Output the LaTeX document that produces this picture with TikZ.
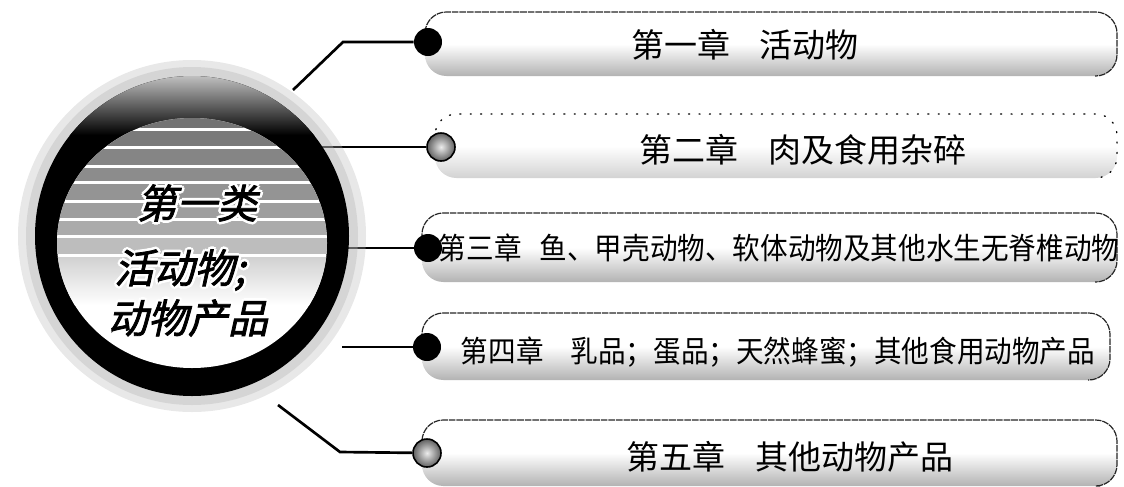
\documentclass[tikz,border=0pt]{standalone}
\usepackage{fontspec}
\newfontfamily\cjk{Noto Sans CJK SC}
\newfontfamily\cjkc[FakeStretch=0.92]{Noto Sans CJK SC}
\newfontfamily\cjkit[FakeSlant=0.22,FakeBold=2]{Noto Sans CJK SC}
\usetikzlibrary{shapes.geometric}
\newcommand\wcp[3]{\rlap{\kern#1\raisebox{#2}{\color{white}#3}}}
\newcommand\outl[1]{\wcp{2pt}{0pt}{#1}\wcp{-2pt}{0pt}{#1}\wcp{0pt}{2pt}{#1}\wcp{0pt}{-2pt}{#1}\wcp{1.4pt}{1.4pt}{#1}\wcp{-1.4pt}{1.4pt}{#1}\wcp{1.4pt}{-1.4pt}{#1}\wcp{-1.4pt}{-1.4pt}{#1}#1}
\tikzset{
  pill/.style={top color=white, bottom color=gray!60, middle color=white, rounded corners=16pt},
  pilllight/.style={top color=white, bottom color=gray!35, middle color=white, rounded corners=16pt},
  pillline/.style={draw=black!85, line width=0.9pt, dash pattern=on 5pt off 0.7pt, rounded corners=16pt},
  pilldot/.style={draw=black, line width=1pt, dash pattern=on 0.8pt off 7pt, line cap=round, rounded corners=16pt},
  conn/.style={line width=2pt, draw=black},
  bulletk/.style={circle, fill=black, minimum size=21pt, inner sep=0pt},
  bulletg/.style={circle, inner color=gray!15, outer color=gray!75!black, draw=black, line width=1.2pt, minimum size=21pt, inner sep=0pt},
  chap/.style={font=\cjk\fontsize{24.75}{26}\selectfont, inner sep=0pt},
  chapc/.style={font=\cjkc\fontsize{22.5}{24}\selectfont, inner sep=0pt},
  ctext/.style={font=\cjkit\fontsize{30}{32}\selectfont, inner sep=0pt}
}
\begin{document}
\begin{tikzpicture}[x=0.75pt,y=-0.75pt]
\useasboundingbox (0,0) rectangle (1124,486);
% pills
\path[pill] (425,12) rectangle (1117,76);
\draw[pillline] (425,40) |- (1117,12) |- (1095,76);
\path[pilllight] (435,114) rectangle (1117,178);
\draw[pilldot] (435,140) |- (1117,114) |- (1095,178);
\path[pill] (422,213) rectangle (1117,282);
\draw[pillline] (422,240) |- (1117,213) |- (1095,282);
\path[pill] (422,313) rectangle (1110,380);
\draw[pillline] (422,340) |- (1110,313) |- (1088,380);
\path[pill] (422,420) rectangle (1117,486);
\draw[pillline] (422,448) |- (1117,420) |- (1100,486);
% connector anchors
\coordinate (s1) at (293,90);
\coordinate (c1) at (343,42);
\coordinate (s2) at (322,147);
\coordinate (s3) at (348,248);
\coordinate (s4) at (342,347);
\coordinate (s5) at (278,405);
\coordinate (c5) at (340,452);
% bullets
\node[bulletk] (b1) at (428,42) {};
\node[bulletg] (b2) at (441,147) {};
\node[bulletk] (b3) at (428,248) {};
\node[bulletk] (b4) at (427,347) {};
\node[bulletg] (b5) at (427,453) {};
% connectors
\draw[conn] (s1) -- (c1) -- (b1);
\draw[conn] (s2) -- (b2);
\draw[conn] (s3) -- (b3);
\draw[conn] (s4) -- (b4);
\draw[conn] (s5) -- (c5) -- (b5);
% halo + ring
\fill[gray!60, opacity=0.3] (192,236) ellipse [x radius=174, y radius=176];
\fill[gray!60, opacity=0.35] (192,236) ellipse [x radius=166, y radius=169];
\fill[black] (192,236) ellipse [x radius=157, y radius=160];
\begin{scope}
\clip (192,236) ellipse [x radius=157, y radius=160];
\shade[top color=gray!45, bottom color=black] (30,74) rectangle (360,135);
\end{scope}
\fill[white] (192,243) ellipse [x radius=135, y radius=125];
\begin{scope}
\clip (192,243) ellipse [x radius=135, y radius=125];
\foreach \ya/\yb/\g in {117/128/55, 131/146/52, 149/165/48, 168/181/45, 184/200/42, 203/218/38, 221/235/33, 238/254/26}
  \fill[black!\g] (50,\ya) rectangle (335,\yb);
\shade[top color=black!18, bottom color=white] (50,257) rectangle (335,305);
\end{scope}
\coordinate (core) at (192,243);
% circle texts
\node[ctext] (h1) at (197,203) {\outl{第一类}};
\node[ctext] (h2) at (180,270) {\outl{活动物;}};
\node[ctext] (h3) at (188,318) {\outl{动物产品}};
% chapter texts
\node[chap] (t1) at (745,45) {第一章\hspace{0.9em}活动物};
\node[chap] (t2) at (803,150) {第二章\hspace{0.9em}肉及食用杂碎};
\node[chapc] (t3) at (779,248) {第三章\hspace{0.6em}鱼、甲壳动物、软体动物及其他水生无脊椎动物};
\node[chapc] (t4) at (778,352) {第四章\hspace{0.9em}乳品；蛋品；天然蜂蜜；其他食用动物产品};
\node[chap] (t5) at (790,457) {第五章\hspace{0.9em}其他动物产品};
\end{tikzpicture}
\end{document}
